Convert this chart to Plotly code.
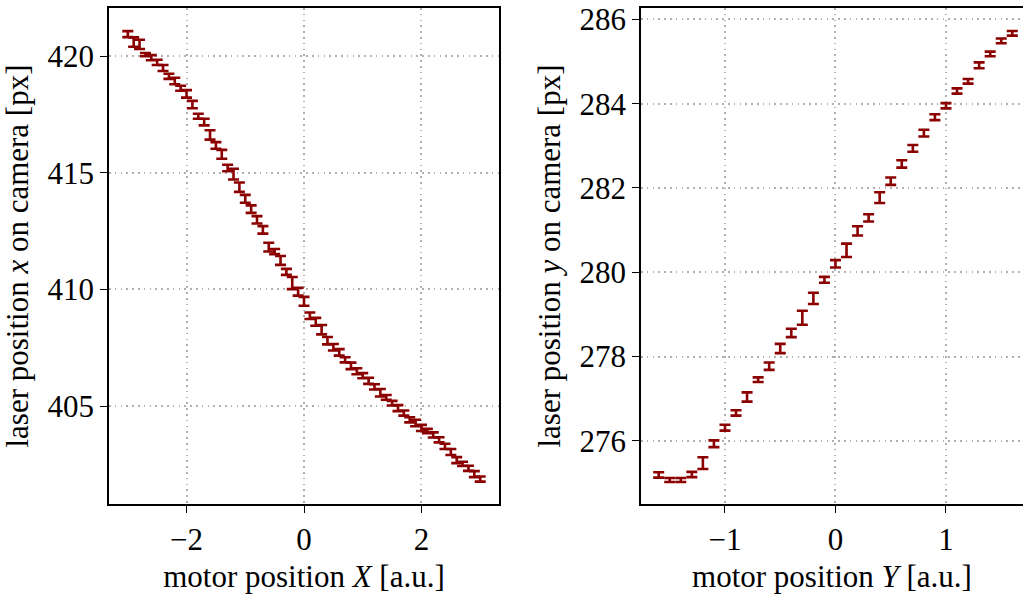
import plotly.graph_objects as go
from plotly.subplots import make_subplots

# ---- data ----
motor_X = [-3.0, -2.9, -2.8, -2.7, -2.6, -2.5, -2.4, -2.3, -2.2, -2.1,
           -2.0, -1.9, -1.8, -1.7, -1.6, -1.5, -1.4, -1.3, -1.2, -1.1,
           -1.0, -0.9, -0.8, -0.7, -0.6, -0.5, -0.4, -0.3, -0.2, -0.1,
           0.0, 0.1, 0.2, 0.3, 0.4, 0.5, 0.6, 0.7, 0.8, 0.9,
           1.0, 1.1, 1.2, 1.3, 1.4, 1.5, 1.6, 1.7, 1.8, 1.9,
           2.0, 2.1, 2.2, 2.3, 2.4, 2.5, 2.6, 2.7, 2.8, 2.9, 3.0]
laser_x = [420.94, 420.60, 420.50, 420.06, 419.93, 419.73, 419.49, 419.13, 418.93, 418.62,
           418.38, 417.92, 417.42, 417.17, 416.62, 416.17, 415.79, 415.20, 414.94, 414.38,
           413.88, 413.44, 412.98, 412.55, 411.81, 411.62, 411.24, 410.75, 410.27, 409.90,
           409.49, 408.87, 408.61, 408.27, 407.80, 407.52, 407.30, 406.98, 406.72, 406.49,
           406.30, 406.08, 405.82, 405.57, 405.37, 405.12, 404.91, 404.70, 404.41, 404.27,
           404.06, 403.93, 403.76, 403.55, 403.27, 403.03, 402.68, 402.52, 402.33, 402.08, 401.87]
laser_x_err = [0.13, 0.20, 0.20, 0.07, 0.11, 0.11, 0.13, 0.11, 0.14, 0.11,
               0.16, 0.16, 0.11, 0.14, 0.20, 0.14, 0.19, 0.14, 0.23, 0.20,
               0.17, 0.16, 0.16, 0.16, 0.19, 0.11, 0.19, 0.13, 0.26, 0.17,
               0.19, 0.14, 0.17, 0.20, 0.16, 0.14, 0.14, 0.11, 0.14, 0.13,
               0.11, 0.13, 0.11, 0.16, 0.10, 0.10, 0.13, 0.11, 0.11, 0.14,
               0.13, 0.09, 0.11, 0.11, 0.11, 0.13, 0.13, 0.09, 0.11, 0.13, 0.11]

motor_Y = [-1.6, -1.5, -1.4, -1.3, -1.2, -1.1, -1.0, -0.9, -0.8, -0.7, -0.6,
           -0.5, -0.4, -0.3, -0.2, -0.1, 0.0, 0.1, 0.2, 0.3, 0.4, 0.5,
           0.6, 0.7, 0.8, 0.9, 1.0, 1.1, 1.2, 1.3, 1.4, 1.5, 1.6]
laser_y = [275.19, 275.07, 275.07, 275.20, 275.47, 275.93, 276.31, 276.66, 277.04, 277.45, 277.77,
           278.19, 278.56, 278.92, 279.38, 279.82, 280.20, 280.52, 280.98, 281.29, 281.77, 282.16,
           282.57, 282.94, 283.30, 283.68, 283.95, 284.30, 284.53, 284.91, 285.18, 285.49, 285.67]
laser_y_err = [0.063, 0.047, 0.047, 0.063, 0.14, 0.08, 0.07, 0.063, 0.11, 0.055, 0.087,
               0.11, 0.10, 0.166, 0.134, 0.07, 0.087, 0.158, 0.11, 0.087, 0.126, 0.087,
               0.087, 0.08, 0.08, 0.07, 0.063, 0.063, 0.055, 0.07, 0.055, 0.055, 0.055]

left_xticks = [-2, 0, 2]
left_yticks = [405, 410, 415, 420]
right_xticks = [-1, 0, 1]
right_yticks = [276, 278, 280, 282, 284, 286]

# ---- style ----
RED = "#8b0000"
FONT = "Liberation Serif"
FS = 31
W, H = 1023, 594
L, R, T, B = 109, 0, 8, 90

fig = make_subplots(rows=1, cols=2)

for col, (xs, ys, es) in enumerate([(motor_X, laser_x, laser_x_err),
                                    (motor_Y, laser_y, laser_y_err)], start=1):
    fig.add_trace(go.Scatter(
        x=xs, y=ys, mode="markers",
        marker=dict(size=1, color="rgba(0,0,0,0)"),
        error_y=dict(type="data", array=es, color=RED, thickness=2.6, width=5.5),
        showlegend=False, hoverinfo="skip"), row=1, col=col)

plot_w = W - L - R
left_dom = [0, (499 - L) / plot_w]
right_dom = [(641 - L) / plot_w, 1]

axis_common = dict(
    showline=True, linecolor="black", linewidth=1.6,
    ticks="outside", ticklen=7, tickwidth=1.4, tickcolor="black",
    showgrid=True, gridcolor="#b0b0b0", gridwidth=1.6, griddash="1.6px,4.2px",
    zeroline=False, tickfont=dict(family=FONT, size=FS, color="black"),
    title_font=dict(family=FONT, size=FS, color="black"),
)

fig.update_xaxes(axis_common)
fig.update_yaxes(axis_common)

fig.update_xaxes(row=1, col=1, domain=left_dom, range=[-3.32, 3.32],
                 tickvals=left_xticks, mirror=True,
                 title_text="motor position <i>X</i> [a.u.]", title_standoff=10)
fig.update_yaxes(row=1, col=1, range=[400.8, 422.06], tickvals=left_yticks,
                 mirror=True,
                 title_text="laser position <i>x</i> on camera [px]", title_standoff=10)

fig.update_xaxes(row=1, col=2, domain=right_dom, range=[-1.76, -1.76 + (W - 641) / 110.5],
                 tickvals=right_xticks, mirror=True,
                 title_text="motor position <i>Y</i> [a.u.]", title_standoff=10)
fig.update_yaxes(row=1, col=2, range=[274.5, 286.27], tickvals=right_yticks,
                 mirror=False,
                 title_text="laser position <i>y</i> on camera [px]", title_standoff=10)

fig.update_layout(
    width=W, height=H,
    margin=dict(l=L, r=R, t=T, b=B, autoexpand=False),
    paper_bgcolor="white", plot_bgcolor="white",
    font=dict(family=FONT, color="black"),
)

fig.write_html("out.html")
